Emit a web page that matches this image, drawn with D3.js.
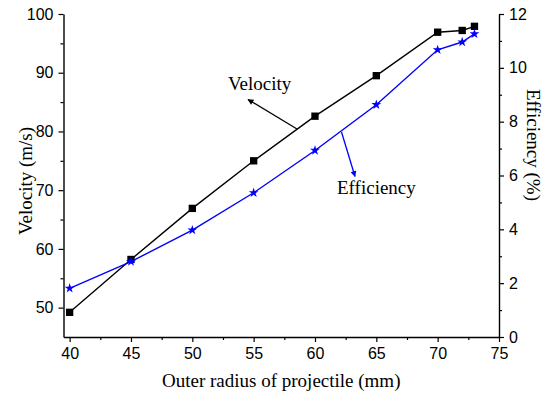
<!DOCTYPE html>
<html>
<head>
<meta charset="utf-8">
<script src="https://cdn.jsdelivr.net/npm/d3@7"></script>
<style>
  html, body { margin: 0; padding: 0; background: #fff; }
  svg { display: block; }
</style>
</head>
<body>
<svg id="chart" width="550" height="394"></svg>
<script>
// Outer radius of projectile (mm)
const radius = [40, 45, 50, 55, 60, 65, 70, 72, 73];
// Launch velocity (m/s), left axis
const velocity = [49.2, 58.2, 66.9, 75.0, 82.6, 89.5, 96.9, 97.2, 97.9];
// Efficiency (%), right axis
const efficiency = [1.81, 2.80, 3.97, 5.36, 6.93, 8.63, 10.67, 10.96, 11.26];

const xTicks = [40, 45, 50, 55, 60, 65, 70, 75];
const xMinor = [42.5, 47.5, 52.5, 57.5, 62.5, 67.5, 72.5];
const vTicks = [50, 60, 70, 80, 90, 100];
const vMinor = [55, 65, 75, 85, 95];
const eTicks = [0, 2, 4, 6, 8, 10, 12];
const eMinor = [1, 3, 5, 7, 9, 11];

const svg = d3.select("#chart");
const plotLeft = 63.5, plotRight = 499, plotTop = 14, plotBottom = 337;

const x = d3.scaleLinear().domain([39.5, 75]).range([plotLeft, plotRight]);
const yV = d3.scaleLinear().domain([45, 100]).range([plotBottom, plotTop]);
const yE = d3.scaleLinear().domain([0, 12]).range([plotBottom, plotTop]);

const sans = "'Liberation Sans', Arial, sans-serif";
const serif = "'Liberation Serif', 'Times New Roman', serif";

function styleAxis(g) {
  g.selectAll("path.domain").attr("stroke", "#000").attr("stroke-width", 1.4);
  g.selectAll(".tick line").attr("stroke", "#000").attr("stroke-width", 1.2);
  g.selectAll("text").attr("font-family", sans).attr("font-size", 16).attr("fill", "#000");
}

// Minor ticks (no labels, no domain line)
function minor(axis, ticks, transform) {
  const g = svg.append("g").attr("transform", transform)
    .call(axis.tickValues(ticks).tickSize(3).tickFormat(""));
  g.select("path.domain").remove();
  g.selectAll(".tick line").attr("stroke", "#000").attr("stroke-width", 1.2);
}
minor(d3.axisBottom(x), xMinor, `translate(0,${plotBottom})`);
minor(d3.axisLeft(yV), vMinor, `translate(${plotLeft},0)`);
minor(d3.axisRight(yE), eMinor, `translate(${plotRight},0)`);

// Major axes
svg.append("g").attr("transform", `translate(0,${plotBottom})`)
  .call(d3.axisBottom(x).tickValues(xTicks).tickSize(5).tickSizeOuter(0).tickPadding(6).tickFormat(d3.format("d")))
  .call(styleAxis);
svg.append("g").attr("transform", `translate(${plotLeft},0)`)
  .call(d3.axisLeft(yV).tickValues(vTicks).tickSize(5).tickSizeOuter(0).tickPadding(5).tickFormat(d3.format("d")))
  .call(styleAxis);
svg.append("g").attr("transform", `translate(${plotRight},0)`)
  .call(d3.axisRight(yE).tickValues(eTicks).tickSize(5).tickSizeOuter(0).tickPadding(5).tickFormat(d3.format("d")))
  .call(styleAxis);

// Axis titles
svg.append("text")
  .attr("x", (plotLeft + plotRight) / 2).attr("y", 387)
  .attr("text-anchor", "middle").attr("font-family", serif).attr("font-size", 19)
  .text("Outer radius of projectile (mm)");
svg.append("text")
  .attr("transform", "translate(32,181) rotate(-90)")
  .attr("text-anchor", "middle").attr("font-family", serif).attr("font-size", 19)
  .text("Velocity (m/s)");
svg.append("text")
  .attr("transform", "translate(527,145) rotate(90)")
  .attr("text-anchor", "middle").attr("font-family", serif).attr("font-size", 19)
  .text("Efficiency (%)");

// Series
const vData = radius.map((r, i) => [r, velocity[i]]);
const eData = radius.map((r, i) => [r, efficiency[i]]);

svg.append("path").datum(vData)
  .attr("fill", "none").attr("stroke", "#000").attr("stroke-width", 1.4)
  .attr("d", d3.line().x(d => x(d[0])).y(d => yV(d[1])));
svg.selectAll(".vpt").data(vData).enter().append("path")
  .attr("class", "vpt")
  .attr("transform", d => `translate(${x(d[0])},${yV(d[1])})`)
  .attr("d", d3.symbol().type(d3.symbolSquare).size(54))
  .attr("fill", "#000");

svg.append("path").datum(eData)
  .attr("fill", "none").attr("stroke", "#0000ff").attr("stroke-width", 1.4)
  .attr("d", d3.line().x(d => x(d[0])).y(d => yE(d[1])));
svg.selectAll(".ept").data(eData).enter().append("path")
  .attr("class", "ept")
  .attr("transform", d => `translate(${x(d[0])},${yE(d[1])})`)
  .attr("d", d3.symbol().type(d3.symbolStar).size(30))
  .attr("fill", "#0000ff");

// Annotation arrows
const defs = svg.append("defs");
function marker(id, color) {
  defs.append("marker").attr("id", id)
    .attr("viewBox", "0 0 10 10").attr("refX", 9).attr("refY", 5)
    .attr("markerWidth", 9).attr("markerHeight", 6).attr("markerUnits", "userSpaceOnUse")
    .attr("orient", "auto")
    .append("path").attr("d", "M0,0 L10,5 L0,10 Z").attr("fill", color);
}
marker("arrowK", "#000");
marker("arrowB", "#0000ff");

svg.append("line").attr("x1", 297).attr("y1", 129).attr("x2", 248).attr("y2", 99.5)
  .attr("stroke", "#000").attr("stroke-width", 1.3).attr("marker-end", "url(#arrowK)");
svg.append("text").attr("x", 228).attr("y", 90)
  .attr("font-family", serif).attr("font-size", 19).text("Velocity");

svg.append("line").attr("x1", 341.5).attr("y1", 132).attr("x2", 355).attr("y2", 176.5)
  .attr("stroke", "#0000ff").attr("stroke-width", 1.3).attr("marker-end", "url(#arrowB)");
svg.append("text").attr("x", 337).attr("y", 194)
  .attr("font-family", serif).attr("font-size", 19).text("Efficiency");
</script>
</body>
</html>
